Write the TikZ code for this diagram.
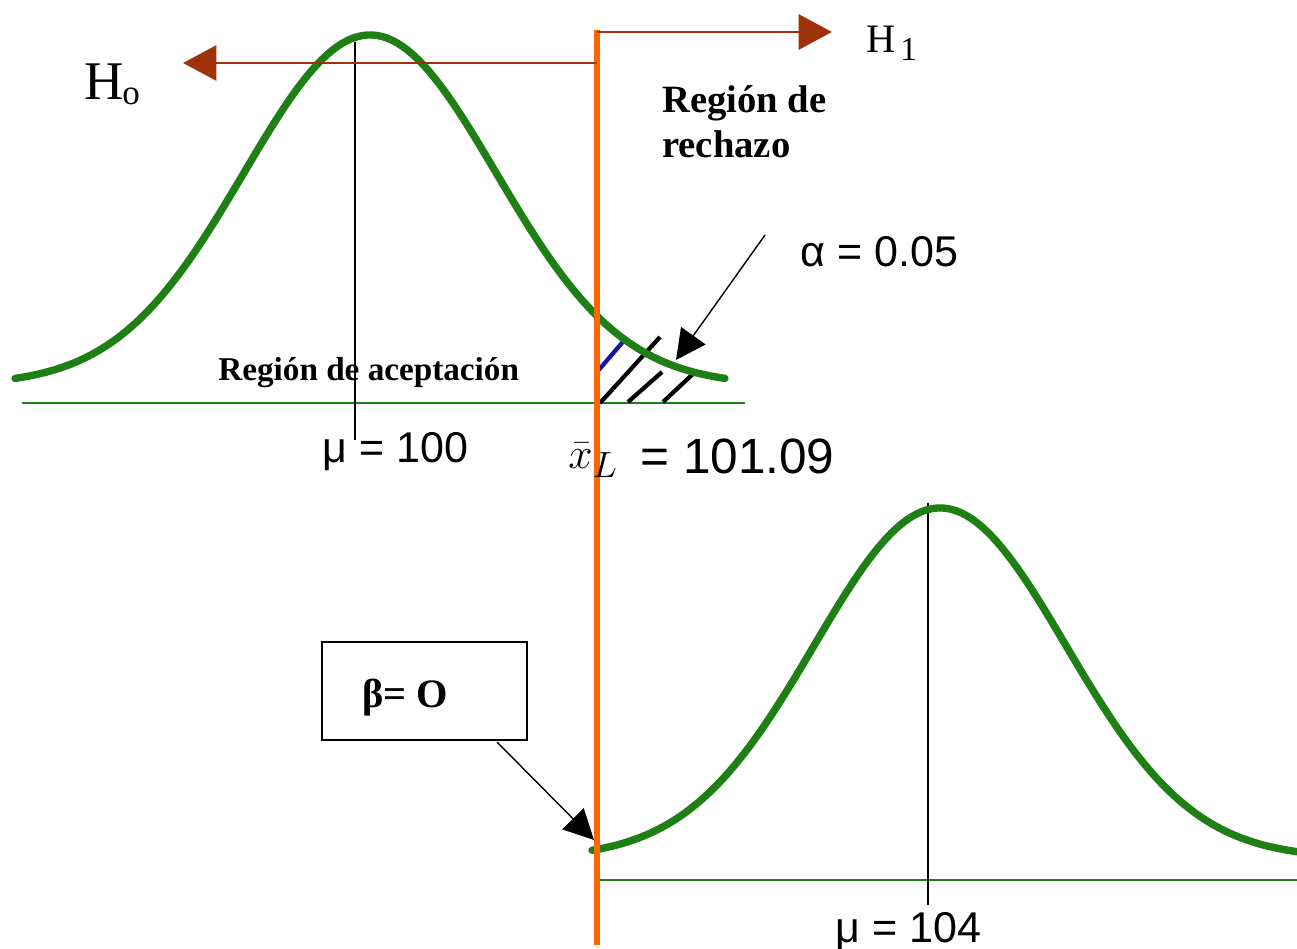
\documentclass[tikz,border=0pt]{standalone}
\usepackage{fontspec}
\setmainfont{Liberation Serif}
\newfontfamily\numf{Liberation Sans}
\usetikzlibrary{arrows.meta}
\definecolor{gcurve}{RGB}{30,128,20}
\definecolor{orng}{RGB}{255,102,0}
\definecolor{brn}{RGB}{160,50,10}
\definecolor{hblue}{RGB}{20,20,160}
\begin{document}
\begin{tikzpicture}[x=0.02cm,y=-0.02cm,
  curve/.style={draw=gcurve,line width=4.2pt,line join=round,line cap=round},
  baseln/.style={draw=gcurve,line width=1.2pt},
  axisln/.style={draw=black,line width=1.1pt},
  hyparrow/.style={draw=brn,fill=brn,line width=1.3pt,-{Triangle[length=19pt,width=20pt]}},
  callout/.style={draw=black,line width=0.8pt,-{Triangle[length=17pt,width=17pt]}},
  hatch/.style={line width=2.4pt},
  num/.style={font=\numf\fontsize{24.5}{28}\selectfont,inner sep=0pt,anchor=base west},
  boldtxt/.style={font=\bfseries\fontsize{22}{25.5}\selectfont,inner sep=0pt,anchor=base west},
  plain/.style={inner sep=0pt,anchor=base west}
]
\useasboundingbox (0,0) rectangle (1297,949);
\fill[white] (0,0) rectangle (1297,949);

% baselines
\draw[baseln] (22,403) -- (745,403);
\draw[baseln] (597,880) -- (1297,880);

% mean lines
\coordinate (m0top) at (355,42);
\coordinate (m0bot) at (355,440);
\coordinate (m1top) at (928,503);
\coordinate (m1bot) at (928,905);
\draw[axisln] (m0top) -- (m0bot);
\draw[axisln] (m1top) -- (m1bot);

% hatching of rejection region
\draw[hatch,hblue] (597,372) -- (627,337);
\draw[hatch] (600,403) -- (660,337);
\draw[hatch] (628,402) -- (662,372);
\draw[hatch] (663,402) -- (695,372);

% curves
\draw[curve] plot[domain=15:725,samples=140] (\x,{385-350*exp(-0.5*((\x-370)/126)^2)});
\draw[curve] plot[domain=592:1297,samples=140] (\x,{858-350*exp(-0.5*((\x-940)/126)^2)});

% critical value line
\coordinate (ctop) at (597,30);
\coordinate (cbot) at (597,945);
\draw[orng,line width=3pt] (ctop) -- (cbot);

% hypothesis arrows
\coordinate (h1start) at (597,32);
\coordinate (h1tip) at (832,32);
\coordinate (h0start) at (597,63);
\coordinate (h0tip) at (183,63);
\draw[hyparrow] (h1start) -- (h1tip);
\draw[hyparrow] (h0start) -- (h0tip);

% labels
\node[plain,font=\fontsize{31}{34}\selectfont] (H0) at (84,100) {H};
\node[plain,font=\fontsize{20}{22}\selectfont] (H0sub) at (122,105) {o};
\node[plain,font=\fontsize{23}{26}\selectfont] (H1) at (866,53) {H};
\node[plain,font=\fontsize{19}{21}\selectfont] (H1sub) at (900,61) {1};

\node[boldtxt] (rech1) at (662,113) {Región de};
\node[boldtxt] (rech2) at (662,158) {rechazo};
\node[boldtxt,font=\bfseries\fontsize{18.9}{22}\selectfont] (acep) at (218,380) {Región de aceptación};

\node[num] (mu0) at (322,462) {μ = 100};
\node[num] (mu1) at (835,942) {μ = 104};
\node[num] (alpha) at (800,267) {α = 0.05};
\node[plain,font=\fontsize{30}{34}\selectfont] (xbar) at (568,468) {$\bar{x}_{L}$};
\node[num,font=\numf\fontsize{28.2}{32}\selectfont] (xval) at (640,473) {= 101.09};

% alpha callout
\coordinate (astart) at (765,235);
\coordinate (aend) at (676,360);
\draw[callout] (astart) -- (aend);

% beta box
\node[draw=black,line width=1pt,minimum width=4.1cm,minimum height=1.96cm,inner sep=0pt] (bbox) at (424.5,691) {};
\node[boldtxt,font=\bfseries\fontsize{23}{26}\selectfont] (btxt) at (362,707) {β= O};
\coordinate (bstart) at (497,742);
\coordinate (bend) at (594,840);
\draw[callout] (bstart) -- (bend);
\end{tikzpicture}
\end{document}
